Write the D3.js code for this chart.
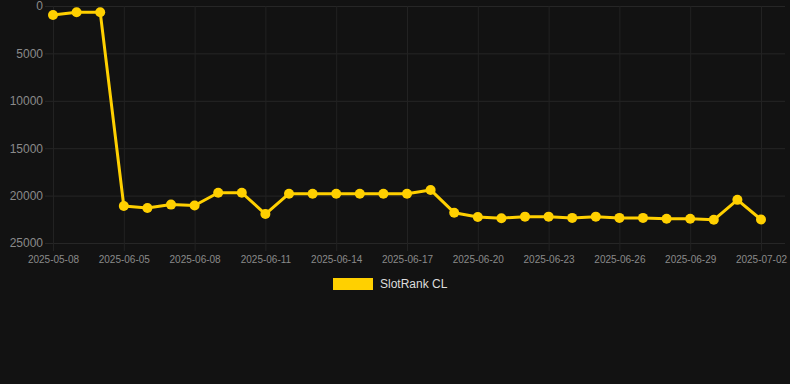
<!DOCTYPE html>
<html>
<head>
<meta charset="utf-8">
<script src="https://cdn.jsdelivr.net/npm/d3@7"></script>
<style>
  html, body { margin: 0; padding: 0; background: #121212; }
  svg { display: block; font-family: "Liberation Sans", Arial, sans-serif; }
</style>
</head>
<body>
<div id="chart"></div>
<script>
// categories (dates) and rank values
var dates = ["2025-05-08", "2025-05-09", "2025-05-10", "2025-06-05", "2025-06-06", "2025-06-07",
  "2025-06-08", "2025-06-09", "2025-06-10", "2025-06-11", "2025-06-12", "2025-06-13",
  "2025-06-14", "2025-06-15", "2025-06-16", "2025-06-17", "2025-06-18", "2025-06-19",
  "2025-06-20", "2025-06-21", "2025-06-22", "2025-06-23", "2025-06-24", "2025-06-25",
  "2025-06-26", "2025-06-27", "2025-06-28", "2025-06-29", "2025-06-30", "2025-07-01",
  "2025-07-02"];
var ranks = [950, 650, 650, 21100, 21300, 20950, 21050, 19700, 19700, 21950, 19800, 19800,
  19800, 19800, 19800, 19800, 19400, 21800, 22250, 22380, 22220, 22220, 22350, 22220,
  22350, 22350, 22450, 22450, 22550, 20450, 22520];
var yTicks = [0, 5000, 10000, 15000, 20000, 25000];
var seriesName = "SlotRank CL";
var lineColor = "#ffd000";

var width = 790, height = 384;
var plot = { left: 53, right: 761, top: 6, bottom: 243, gridRight: 785 };

var svg = d3.select("#chart").append("svg")
    .attr("width", width)
    .attr("height", height);

svg.append("rect")
    .attr("width", width)
    .attr("height", height)
    .attr("fill", "#121212");

var x = d3.scalePoint()
    .domain(dates)
    .range([plot.left, plot.right]);

var y = d3.scaleLinear()
    .domain([0, 25000])
    .range([plot.top, plot.bottom]);

// horizontal grid + y labels
var yAxis = d3.axisLeft(y)
    .tickValues(yTicks)
    .tickSize(-(plot.gridRight - plot.left + 8))
    .tickPadding(2)
    .tickFormat(d3.format("d"));

var gy = svg.append("g")
    .attr("transform", "translate(" + (plot.left - 8) + ",0)")
    .call(yAxis);
gy.select(".domain").remove();
gy.selectAll(".tick line").attr("stroke", "#262626");
gy.selectAll(".tick text")
    .attr("fill", "#8a8a8a")
    .attr("font-size", 12);

// vertical grid + x labels (every 3rd date shown)
var shown = dates.filter((d, i) => i % 3 === 0);
var xAxis = d3.axisBottom(x)
    .tickValues(shown)
    .tickSize(-(plot.bottom - plot.top + 8))
    .tickPadding(11);

var gx = svg.append("g")
    .attr("transform", "translate(0," + (plot.bottom + 8) + ")")
    .call(xAxis);
gx.select(".domain").remove();
gx.selectAll(".tick line").attr("stroke", "#222");
gx.selectAll(".tick text")
    .attr("fill", "#8a8a8a")
    .attr("font-size", 10)
    .attr("dy", "0.1em");

// line
var line = d3.line()
    .x((d, i) => x(dates[i]))
    .y(d => y(d));

svg.append("path")
    .datum(ranks)
    .attr("fill", "none")
    .attr("stroke", lineColor)
    .attr("stroke-width", 3)
    .attr("stroke-linejoin", "round")
    .attr("d", line);

svg.append("g")
    .selectAll("circle")
    .data(ranks)
    .join("circle")
    .attr("cx", (d, i) => x(dates[i]))
    .attr("cy", d => y(d))
    .attr("r", 5)
    .attr("fill", lineColor);

// legend
var legend = svg.append("g").attr("transform", "translate(333,278)");
legend.append("rect")
    .attr("width", 40)
    .attr("height", 12)
    .attr("fill", lineColor);
legend.append("text")
    .attr("x", 47)
    .attr("y", 6)
    .attr("dy", "0.35em")
    .attr("fill", "#dddddd")
    .attr("font-size", 12)
    .text(seriesName);
</script>
</body>
</html>
